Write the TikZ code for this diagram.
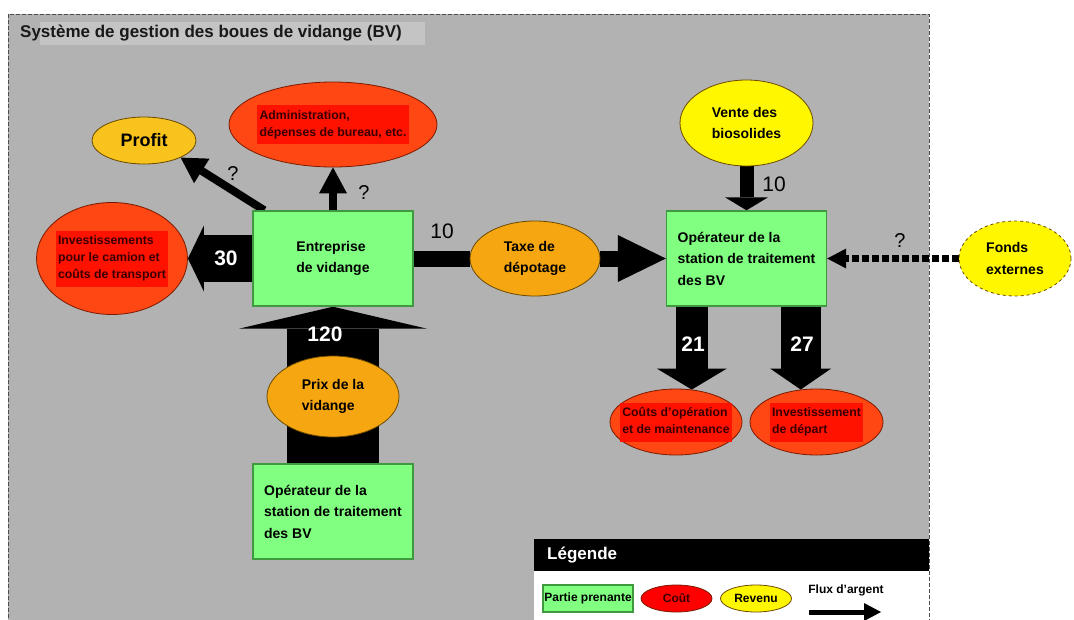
\documentclass[tikz,border=0pt]{standalone}
\usepackage{fontspec}
\setmainfont{Liberation Sans}
\usepackage{xcolor}
\usepackage{tikz}
\usetikzlibrary{shapes.geometric, arrows.meta, positioning, calc}

\definecolor{bvgray}{HTML}{B2B2B2}
\definecolor{titlegray}{HTML}{C4C4C4}
\definecolor{partgreen}{HTML}{80FF80}
\definecolor{partedge}{HTML}{3F9A3F}
\definecolor{costfill}{HTML}{FF4713}
\definecolor{costmark}{HTML}{FF1200}
\definecolor{costtext}{HTML}{3A0000}
\definecolor{costedge}{HTML}{7A1A00}
\definecolor{profitfill}{HTML}{F7C31C}
\definecolor{taxfill}{HTML}{F6A611}
\definecolor{revfill}{HTML}{FFF700}
\definecolor{ovaledge}{HTML}{6B4A00}

\pgfdeclarelayer{back}
\pgfdeclarelayer{flow}
\pgfsetlayers{back,flow,main}

\newcommand{\costlines}[1]{{\setlength{\fboxsep}{2.5pt}\colorbox{costmark}{\begin{tabular}{@{}l@{}}#1\end{tabular}}}}

\begin{document}
\begin{tikzpicture}[x=1pt, y=-1pt,
  part/.style={draw=partedge, line width=1.4pt, fill=partgreen, inner sep=0pt, minimum width=160pt, minimum height=95pt, align=left, font=\fontsize{14}{21.5}\selectfont\bfseries},
  oval/.style={ellipse, draw=ovaledge, line width=0.8pt, inner sep=0pt, align=left, font=\fontsize{14}{21.5}\selectfont\bfseries},
  cost/.style={ellipse, draw=costedge, line width=0.8pt, fill=costfill, inner sep=0pt},
  costtxt/.style={inner sep=0pt, text=costtext, align=left, font=\fontsize{12.3}{17}\selectfont\bfseries},
  num/.style={inner sep=0pt, text=white, font=\fontsize{21}{21}\selectfont\bfseries},
  val/.style={inner sep=0pt, font=\fontsize{21}{21}\selectfont},
  ask/.style={inner sep=0pt, font=\fontsize{20}{20}\selectfont},
]
\useasboundingbox (0,0) rectangle (1074,619);

% System background
\begin{pgfonlayer}{back}
\fill[bvgray] (8,14) rectangle (929,630);
\fill[titlegray] (40,22) rectangle (425,45);
\end{pgfonlayer}
\node[anchor=west, inner sep=0pt, text=black!90, font=\fontsize{17}{20}\selectfont\bfseries] (title) at (20,33) {Système de gestion des boues de vidange (BV)};

% Emptying company side
\node[part] (ent) at (333,258.5) {Entreprise\\de vidange};
\node[oval, fill=profitfill, font=\fontsize{18}{18}\selectfont\bfseries, minimum width=104pt, minimum height=47pt] (profit) at (144,140.5) {Profit};
\node[cost, minimum width=208pt, minimum height=85pt] (admin) at (333,124.5) {};
\node[costtxt] (admin-t) at (admin) {\costlines{Administration,\\dépenses de bureau, etc.}};
\node[cost, minimum width=151pt, minimum height=112pt] (inv) at (112,258.5) {};
\node[costtxt] (inv-t) at (inv) {\costlines{Investissements\\pour le camion et\\coûts de transport}};
\node[oval, fill=taxfill, minimum width=130pt, minimum height=75pt] (taxe) at (535,258.5) {Taxe de\\dépotage};
\node[part] (opb) at (333,511.5) {Opérateur de la\\station de traitement\\des BV};

% Treatment plant side
\node[part] (opr) at (746.5,258.5) {Opérateur de la\\station de traitement\\des BV};
\node[oval, fill=revfill, minimum width=133pt, minimum height=86pt] (vente) at (746.5,123) {Vente des\\biosolides};
\node[oval, fill=revfill, dashed, minimum width=112pt, minimum height=75pt] (fonds) at (1015,258.5) {Fonds\\externes};
\node[cost, minimum width=132pt, minimum height=66pt] (cout) at (676,422) {};
\node[costtxt] (cout-t) at (cout) {\costlines{Coûts d'opération\\et de maintenance}};
\node[cost, minimum width=133pt, minimum height=66pt] (dep) at (816.5,422) {};
\node[costtxt] (dep-t) at (dep) {\costlines{Investissement\\de départ}};

% Money flows
\begin{pgfonlayer}{flow}
\draw[line width=47pt, -{Triangle[width=66pt,length=16pt,line width=0pt]}] (ent) -- (inv);
\draw[line width=8pt, -{Triangle[width=29pt,length=25pt,line width=0pt]}] ($(ent.north west)+(12,0)$) -- (profit.-25);
\draw[line width=8pt, -{Triangle[width=28pt,length=26pt,line width=0pt]}] (ent) -- (admin);
\draw[line width=16pt] (ent) -- (taxe);
\draw[line width=16pt, -{Triangle[width=47pt,length=48pt,line width=0pt]}] (taxe) -- (opr);
\draw[line width=92pt, -{Triangle[width=188pt,length=22pt,line width=0pt]}] (opb) -- (ent);
\draw[line width=14pt, -{Triangle[width=43pt,length=13pt,line width=0pt]}] (vente) -- (opr);
\draw[line width=7pt, dash pattern=on 7pt off 3pt, -{Triangle[width=20pt,length=19pt,line width=0pt]}] (fonds) -- (opr);
\draw[line width=32pt, -{Triangle[width=70pt,length=21pt,line width=0pt]}] (cout.64 |- opr.south) -- (cout.64);
\draw[line width=40pt, -{Triangle[width=61pt,length=21pt,line width=0pt]}] (dep.116 |- opr.south) -- (dep.116);
\end{pgfonlayer}

% Prix node sits over the 120 flow
\node[oval, fill=taxfill, minimum width=132pt, minimum height=81pt] (prix) at (333,396.5) {Prix de la\\vidange};

% Flow values
\node[num] (n30) at (226,258) {30};
\node[num] (n120) at (325,334) {120};
\node[val] (n10a) at (442,231) {10};
\node[val] (n10b) at (774,184) {10};
\node[num] (n21) at (693,344) {21};
\node[num] (n27) at (802,344) {27};
\node[ask] (q1) at (233,174) {?};
\node[ask] (q2) at (364,193) {?};
\node[ask] (q3) at (900,241) {?};

% Legend
\begin{scope}[shift={(534,539)}]
\fill[black] (0,0) rectangle (395,32);
\fill[white] (0,32) rectangle (395,90);
\node[anchor=west, inner sep=0pt, text=white, font=\fontsize{17}{17}\selectfont\bfseries] (leg) at (13,16) {Légende};
\node[draw=partedge, line width=1.2pt, fill=partgreen, inner sep=1pt, minimum width=90pt, minimum height=27pt, font=\fontsize{12}{12}\selectfont\bfseries] (leg-part) at (54,59.5) {Partie prenante};
\node[ellipse, draw=costedge, line width=0.8pt, fill=red, inner sep=0pt, minimum width=71pt, minimum height=27pt, text=costtext, font=\fontsize{12}{12}\selectfont\bfseries] (leg-cout) at (142.5,59.5) {Coût};
\node[ellipse, draw=ovaledge, line width=0.8pt, fill=revfill, inner sep=0pt, minimum width=71pt, minimum height=27pt, font=\fontsize{12}{12}\selectfont\bfseries] (leg-rev) at (222,59.5) {Revenu};
\node[inner sep=0pt, font=\fontsize{12}{12}\selectfont\bfseries] (leg-flux) at (312,51) {Flux d'argent};
\coordinate (flux-a) at (275,73);
\coordinate (flux-b) at (347,73);
\draw[line width=5pt, -{Triangle[width=18pt,length=17pt,line width=0pt]}] (flux-a) -- (flux-b);
\end{scope}

% System border
\draw[black!70, line width=0.8pt, dash pattern=on 4pt off 2pt] (8,630) -- (8,14) -- (929,14) -- (929,630);
\end{tikzpicture}
\end{document}
